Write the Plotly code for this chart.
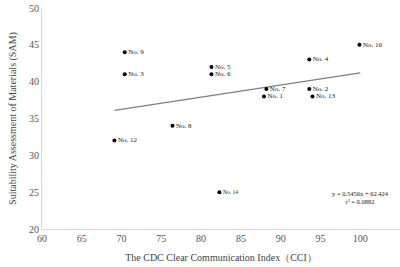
import plotly.graph_objects as go

labels = ["No. 9", "No. 3", "No. 8", "No. 12", "No. 5", "No. 6", "No. 7", "No. 1",
          "No. 4", "No. 2", "No. 13", "No. 10", "No. 14"]
cci = [70.4, 70.4, 76.4, 69.1, 81.3, 81.3, 88.2, 87.9, 93.6, 93.6, 94.0, 99.9, 82.3]
sam = [44, 41, 34, 32, 42, 41, 39, 38, 43, 39, 38, 45, 25]
trend_x = [69.1, 100.0]
trend_y = [36.1, 41.2]
x_ticks = [60, 65, 70, 75, 80, 85, 90, 95, 100]
y_ticks = [20, 25, 30, 35, 40, 45, 50]

font = "Liberation Serif, Times New Roman, serif"
fig = go.Figure()
fig.add_trace(go.Scatter(x=trend_x, y=trend_y, mode="lines",
                         line=dict(color="#7f7f7f", width=1.2), hoverinfo="skip"))
big = [l for l in labels if l != "No. 14"]
fig.add_trace(go.Scatter(
    x=[c for c, l in zip(cci, labels) if l != "No. 14"],
    y=[s for s, l in zip(sam, labels) if l != "No. 14"],
    mode="markers+text", text=big, textposition="middle right",
    textfont=dict(family=font, size=7, color="#222"),
    marker=dict(color="black", size=4)))
fig.add_trace(go.Scatter(
    x=[c for c, l in zip(cci, labels) if l == "No. 14"],
    y=[s for s, l in zip(sam, labels) if l == "No. 14"],
    mode="markers+text", text=["No. 14"], textposition="middle right",
    textfont=dict(family=font, size=5.5, color="#222"),
    marker=dict(color="black", size=4)))

fig.add_annotation(x=100, y=24.3, xref="x", yref="y",
                   text="y = 0.5456x + 62.424<br>r² = 0.0882", showarrow=False,
                   font=dict(family=font, size=6.5, color="#222"), align="center")

fig.update_layout(
    width=400, height=267, margin=dict(l=42, r=0, t=8, b=38),
    paper_bgcolor="white", plot_bgcolor="white", showlegend=False,
    font=dict(family=font, color="#555"),
    xaxis=dict(range=[60, 105], tickvals=x_ticks, showgrid=False, zeroline=False,
               showline=True, linecolor="#d9d9d9", linewidth=1, automargin=False,
               tickfont=dict(size=10, color="#555"), ticks="",
               title=dict(text="The CDC Clear Communication Index（CCI）",
                          font=dict(size=10, color="#444"), standoff=10)),
    yaxis=dict(range=[20, 50], tickvals=y_ticks, showgrid=False, zeroline=False,
               showline=True, linecolor="#d9d9d9", linewidth=1, automargin=False,
               tickfont=dict(size=10, color="#555"), ticks="",
               title=dict(text="Suitability Assessment of Materials (SAM)",
                          font=dict(size=10, color="#444"), standoff=10)),
)
fig.write_html("out.html", config={"displayModeBar": False},
               post_script="document.body.style.margin='0';")
